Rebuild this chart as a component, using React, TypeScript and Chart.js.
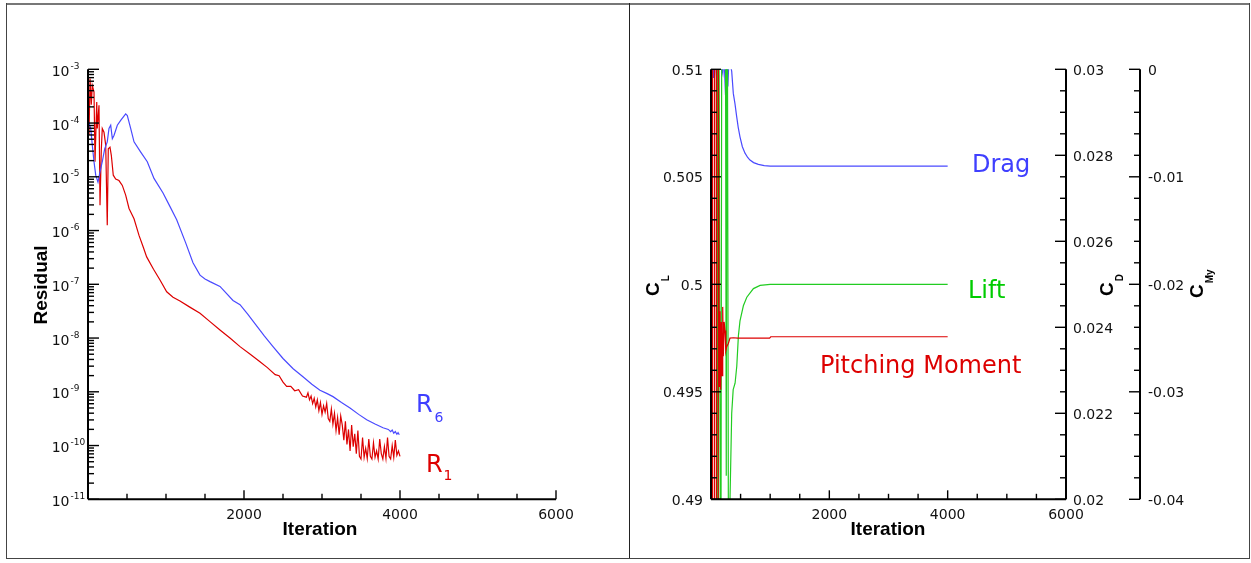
import React, { useEffect, useRef } from "react";
import { Chart, registerables } from "chart.js";
Chart.register(...registerables);

// ---------- Left panel: residual history (values stored as log10 exponents) ----------
const r6Iter = [0, 35, 55, 77, 99, 128, 154, 183, 214, 247, 269, 291, 312, 333, 376, 419, 483, 504, 547, 590, 676, 760, 846, 962, 1050, 1137, 1250, 1346, 1436, 1500, 1564, 1692, 1859, 1949, 2050, 2150, 2260, 2372, 2500, 2630, 2756, 2870, 2974, 3060, 3141, 3250, 3359, 3470, 3573, 3680, 3782, 3850, 3880, 3900, 3920, 3940, 3960, 3975, 3991];
const r6Log10 = [-3.95, -4.10, -4.41, -4.72, -4.97, -5.10, -4.91, -4.72, -4.48, -4.35, -4.10, -4.04, -4.29, -4.23, -4.04, -3.95, -3.83, -3.86, -4.10, -4.35, -4.54, -4.72, -5.03, -5.30, -5.55, -5.80, -6.22, -6.60, -6.83, -6.90, -6.95, -7.04, -7.30, -7.38, -7.56, -7.75, -7.96, -8.16, -8.38, -8.57, -8.72, -8.86, -8.97, -9.03, -9.09, -9.20, -9.30, -9.42, -9.52, -9.60, -9.67, -9.70, -9.74, -9.71, -9.77, -9.74, -9.79, -9.76, -9.80];

const r1Iter = [0, 13, 26, 42, 55, 77, 90, 112, 119, 141, 154, 171, 183, 205, 227, 247, 260, 282, 299, 324, 355, 397, 440, 483, 526, 590, 654, 709, 752, 840, 923, 1009, 1090, 1179, 1300, 1436, 1560, 1692, 1820, 1949, 2080, 2205, 2300, 2400, 2450, 2500, 2547, 2600, 2650, 2700, 2750,
  2800, 2820, 2840, 2860, 2880, 2900, 2920, 2940, 2960, 2980, 3000, 3020, 3040, 3060, 3080, 3100, 3120, 3140, 3160, 3180, 3200, 3220, 3240, 3260, 3280, 3300, 3320, 3340, 3360, 3380, 3400, 3420, 3440, 3460, 3480, 3500, 3520, 3540, 3560, 3580, 3600, 3620, 3640, 3660, 3680, 3700, 3720, 3740, 3760, 3780, 3800, 3820, 3840, 3860, 3880, 3900, 3920, 3940, 3960, 3980, 4000];
const r1Log10 = [-3.24, -4.22, -3.17, -3.66, -3.30, -3.42, -4.72, -3.61, -4.10, -3.67, -5.53, -4.48, -4.10, -4.17, -4.41, -5.90, -4.48, -4.45, -4.60, -4.97, -5.04, -5.07, -5.16, -5.34, -5.59, -5.78, -6.09, -6.31, -6.49, -6.72, -6.92, -7.14, -7.24, -7.31, -7.42, -7.54, -7.69, -7.85, -8.00, -8.16, -8.30, -8.44, -8.55, -8.68, -8.70, -8.82, -8.90, -8.90, -8.98, -8.96, -9.08,
  -9.10, -9.02, -9.15, -9.08, -9.22, -9.12, -9.28, -9.15, -9.35, -9.20, -9.42, -9.26, -9.38, -9.22, -9.50, -9.55, -9.32, -9.60, -9.40, -9.72, -9.48, -9.80, -9.45, -9.62, -9.90, -9.55, -9.98, -9.70, -10.10, -9.62, -10.02, -9.78, -10.15, -9.72, -10.20, -10.25, -9.85, -10.22, -10.05, -10.24, -9.88, -10.20, -10.25, -9.95, -10.22, -10.10, -10.25, -9.88, -10.15, -10.25, -10.02, -10.24, -9.85, -10.20, -10.25, -10.00, -10.22, -9.90, -10.18, -10.10, -10.20];

const residualExponents = [-3, -4, -5, -6, -7, -8, -9, -10, -11];
const iterationTickValues = [2000, 4000, 6000];
const iterationTickLabels = ["2000", "4000", "6000"];

// ---------- Right panel: force coefficients ----------
const dragIter = [0, 20, 40, 60, 100, 130, 170, 200, 220, 245, 265, 285, 305, 330, 350, 377, 405, 434, 460, 490, 530, 575, 620, 659, 720, 800, 900, 1000, 4000];
const dragCD = [0.0320, 0.0310, 0.0298, 0.0305, 0.0297, 0.0304, 0.0301, 0.0299, 0.0303, 0.0294, 0.0302, 0.0296, 0.0303, 0.0301, 0.02995, 0.02944, 0.0292, 0.0289, 0.02865, 0.02843, 0.0282, 0.02805, 0.02795, 0.02789, 0.02783, 0.02779, 0.02776, 0.02775, 0.02775];

const liftIter = [0, 100, 118, 128, 165, 185, 240, 258, 272, 300, 322, 350, 375, 407, 436, 463, 490, 547, 605, 717, 830, 1000, 4000];
const liftCL = [0.52, 0.52, 0.48, 0.52, 0.48, 0.52, 0.52, 0.4911, 0.52, 0.48, 0.4901, 0.4940, 0.4951, 0.4954, 0.4962, 0.4976, 0.4983, 0.4990, 0.4994, 0.4998, 0.49995, 0.5, 0.5];

const momentIter = [0, 22, 25, 55, 58, 88, 91, 120, 123, 140, 152, 164, 175, 186, 198, 208, 222, 237, 250, 265, 293, 321, 377, 450, 990, 1010, 4000];
const momentCMy = [0.005, 0.005, -0.05, -0.05, 0.005, 0.005, -0.05, -0.05, 0.005, -0.0295, -0.0225, -0.0298, -0.0235, -0.0285, -0.0221, -0.0267, -0.0235, -0.0243, -0.0262, -0.0258, -0.0255, -0.0250, -0.02497, -0.0250, -0.0250, -0.02488, -0.02488];

const clTickValues = [0.49, 0.495, 0.5, 0.505, 0.51];
const clTickLabels = ["0.49", "0.495", "0.5", "0.505", "0.51"];
const cdTickValues = [0.02, 0.022, 0.024, 0.026, 0.028, 0.03];
const cdTickLabels = ["0.02", "0.022", "0.024", "0.026", "0.028", "0.03"];
const cmyTickValues = [-0.04, -0.03, -0.02, -0.01, 0];
const cmyTickLabels = ["-0.04", "-0.03", "-0.02", "-0.01", "0"];

const BLUE = "#4a4aff";
const RED = "#dd0000";
const GREEN = "#22cc22";
const TICK_FONT = '14px "DejaVu Sans", sans-serif';
const TITLE_FONT = 'bold 19px "Liberation Sans", Arial, sans-serif';
const ANNO_FONT = '24px "DejaVu Sans", sans-serif';

function seg(ctx: CanvasRenderingContext2D, x1: number, y1: number, x2: number, y2: number) {
  ctx.beginPath();
  ctx.moveTo(x1, y1);
  ctx.lineTo(x2, y2);
  ctx.stroke();
}

function rotTitle(ctx: CanvasRenderingContext2D, bx: number, yb: number, main: string, sub: string) {
  ctx.save();
  ctx.translate(bx, yb);
  ctx.rotate(-Math.PI / 2);
  ctx.fillStyle = "#000";
  ctx.textAlign = "left";
  ctx.textBaseline = "alphabetic";
  ctx.font = TITLE_FONT;
  ctx.fillText(main, 0, 0);
  const w = ctx.measureText(main).width;
  ctx.font = 'bold 10px "Liberation Sans", Arial, sans-serif';
  ctx.fillText(sub, w + 1, 9.5);
  ctx.restore();
}

function xAxisTicks(ctx: CanvasRenderingContext2D, chart: any) {
  const xs = chart.scales.x;
  const { left, right, bottom } = chart.chartArea;
  ctx.lineWidth = 2;
  seg(ctx, left, bottom, right, bottom);
  ctx.lineWidth = 1.4;
  for (let v = 500; v <= 6000; v += 500) {
    const x = xs.getPixelForValue(v);
    const len = v % 2000 === 0 ? 9 : 5.5;
    seg(ctx, x, bottom, x, bottom - len);
  }
  ctx.fillStyle = "#111";
  ctx.font = TICK_FONT;
  ctx.textAlign = "center";
  ctx.textBaseline = "alphabetic";
  iterationTickValues.forEach((v, i) => {
    ctx.fillText(iterationTickLabels[i], xs.getPixelForValue(v), bottom + 19.5);
  });
}

const leftPlugin = {
  id: "leftAxes",
  afterDraw(chart: any) {
    const ctx: CanvasRenderingContext2D = chart.ctx;
    const ys = chart.scales.y;
    const { left, top, bottom } = chart.chartArea;
    ctx.save();
    ctx.strokeStyle = "#000";
    ctx.lineWidth = 2;
    seg(ctx, left, top, left, bottom);
    ctx.lineWidth = 1.4;
    residualExponents.forEach((e) => {
      const base = Math.pow(10, e);
      const y = ys.getPixelForValue(base);
      seg(ctx, left, y, left + 11, y);
      if (e > -11) {
        for (let m = 2; m <= 9; m++) {
          const ym = ys.getPixelForValue(base / 10 * m);
          seg(ctx, left, ym, left + 6, ym);
        }
      }
      ctx.fillStyle = "#111";
      ctx.font = TICK_FONT;
      ctx.textAlign = "right";
      ctx.textBaseline = "alphabetic";
      ctx.fillText("10", left - 18.5, y + 6.5);
      ctx.font = '9px "DejaVu Sans", sans-serif';
      ctx.textAlign = "left";
      ctx.fillText(String(e), left - 17.5, y - 0.5);
    });
    xAxisTicks(ctx, chart);

    ctx.fillStyle = "#000";
    ctx.font = TITLE_FONT;
    ctx.textAlign = "center";
    ctx.textBaseline = "middle";
    ctx.fillText("Iteration", 320, 530);
    ctx.save();
    ctx.translate(42, 285);
    ctx.rotate(-Math.PI / 2);
    ctx.fillText("Residual", 0, 0);
    ctx.restore();

    ctx.textAlign = "left";
    ctx.textBaseline = "alphabetic";
    ctx.fillStyle = "#3f3fff";
    ctx.font = ANNO_FONT;
    ctx.fillText("R", 416, 412);
    ctx.font = '14px "DejaVu Sans", sans-serif';
    ctx.fillText("6", 434.5, 422);
    ctx.fillStyle = RED;
    ctx.font = ANNO_FONT;
    ctx.fillText("R", 426, 472);
    ctx.font = '14px "DejaVu Sans", sans-serif';
    ctx.fillText("1", 443.5, 480);
    ctx.restore();
  },
};

const rightPlugin = {
  id: "rightAxes",
  afterDraw(chart: any) {
    const ctx: CanvasRenderingContext2D = chart.ctx;
    const yL = chart.scales.yL;
    const yD = chart.scales.yD;
    const yM = chart.scales.yM;
    const { left, right, top, bottom } = chart.chartArea;
    const mx = right + 74;
    ctx.save();
    ctx.strokeStyle = "#000";
    ctx.lineWidth = 2;
    seg(ctx, left, top, left, bottom);
    seg(ctx, right, top, right, bottom);
    seg(ctx, mx, top, mx, bottom);
    ctx.lineWidth = 1.4;
    for (let i = 0; i <= 20; i++) {
      const y = yL.getPixelForValue(0.49 + i * 0.001);
      seg(ctx, left, y, left + (i % 5 === 0 ? 10 : 6), y);
      const yd = yD.getPixelForValue(0.02 + i * 0.0005);
      seg(ctx, right - (i % 4 === 0 ? 11 : 6), yd, right, yd);
      const ym = yM.getPixelForValue(-0.04 + i * 0.002);
      seg(ctx, mx - (i % 5 === 0 ? 11 : 6), ym, mx, ym);
    }
    xAxisTicks(ctx, chart);

    ctx.fillStyle = "#111";
    ctx.font = TICK_FONT;
    ctx.textBaseline = "alphabetic";
    ctx.textAlign = "right";
    clTickValues.forEach((v, i) => ctx.fillText(clTickLabels[i], left - 8, yL.getPixelForValue(v) + 5.5));
    ctx.textAlign = "left";
    cdTickValues.forEach((v, i) => ctx.fillText(cdTickLabels[i], right + 7, yD.getPixelForValue(v) + 5.5));
    cmyTickValues.forEach((v, i) => ctx.fillText(cmyTickLabels[i], mx + 8, yM.getPixelForValue(v) + 5.5));

    ctx.fillStyle = "#000";
    ctx.font = TITLE_FONT;
    ctx.textAlign = "center";
    ctx.textBaseline = "middle";
    ctx.fillText("Iteration", 258, 530);
    rotTitle(ctx, 29, 296, "C", "L");
    rotTitle(ctx, 483, 296, "C", "D");
    rotTitle(ctx, 573, 298, "C", "My");

    ctx.textAlign = "left";
    ctx.textBaseline = "alphabetic";
    ctx.font = ANNO_FONT;
    ctx.fillStyle = "#3f3fff";
    ctx.fillText("Drag", 342, 171.5);
    ctx.fillStyle = "#00cc00";
    ctx.fillText("Lift", 338, 298);
    ctx.fillStyle = RED;
    ctx.fillText("Pitching Moment", 190, 373);
    ctx.restore();
  },
};

const line = (label: string, xs: number[], ys: number[], color: string, yAxisID?: string) => ({
  label,
  data: xs.map((x, i) => ({ x, y: ys[i] })),
  borderColor: color,
  backgroundColor: color,
  borderWidth: 1.2,
  pointRadius: 0,
  tension: 0,
  clip: 0,
  ...(yAxisID ? { yAxisID } : {}),
});

export default function App() {
  const leftRef = useRef<HTMLCanvasElement>(null);
  const rightRef = useRef<HTMLCanvasElement>(null);

  useEffect(() => {
    const common = {
      responsive: false,
      animation: false as const,
      devicePixelRatio: 1,
      events: [] as any[],
      plugins: { legend: { display: false }, tooltip: { enabled: false } },
    };
    const c1 = new Chart(leftRef.current!, {
      type: "line",
      data: {
        datasets: [
          line("R6", r6Iter, r6Log10.map((e) => Math.pow(10, e)), BLUE),
          line("R1", r1Iter, r1Log10.map((e) => Math.pow(10, e)), RED),
        ],
      },
      options: {
        ...common,
        layout: { padding: { left: 88, right: 73, top: 69.3, bottom: 63.7 } },
        scales: {
          x: { type: "linear", min: 0, max: 6000, display: false },
          y: { type: "logarithmic", min: 1e-11, max: 1e-3, display: false },
        },
      },
      plugins: [leftPlugin],
    } as any);

    const c2 = new Chart(rightRef.current!, {
      type: "line",
      data: {
        datasets: [
          line("Pitching Moment", momentIter, momentCMy, RED, "yM"),
          line("Lift", liftIter, liftCL, GREEN, "yL"),
          line("Drag", dragIter, dragCD, BLUE, "yD"),
        ],
      },
      options: {
        ...common,
        layout: { padding: { left: 81, right: 185, top: 69.3, bottom: 63.7 } },
        scales: {
          x: { type: "linear", min: 0, max: 6000, display: false },
          yL: { type: "linear", min: 0.49, max: 0.51, display: false },
          yD: { type: "linear", min: 0.02, max: 0.03, display: false },
          yM: { type: "linear", min: -0.04, max: 0, display: false },
        },
      },
      plugins: [rightPlugin],
    } as any);

    return () => {
      c1.destroy();
      c2.destroy();
    };
  }, []);

  const edge = (s: React.CSSProperties) => <div style={{ position: "absolute", pointerEvents: "none", ...s }} />;

  return (
    <div style={{ position: "absolute", left: 0, top: 0, width: 1251, height: 563, background: "#fff", overflow: "hidden" }}>
      <canvas ref={leftRef} width={629} height={563} style={{ position: "absolute", left: 0, top: 0 }} />
      <canvas ref={rightRef} width={621} height={563} style={{ position: "absolute", left: 630, top: 0 }} />
      {edge({ left: 6, top: 3, width: 1244, height: 2, background: "#777" })}
      {edge({ left: 6, top: 3, width: 1, height: 556, background: "#444" })}
      {edge({ left: 629, top: 3, width: 1, height: 556, background: "#222" })}
      {edge({ left: 1249, top: 3, width: 1, height: 556, background: "#444" })}
      {edge({ left: 6, top: 558, width: 1244, height: 1, background: "#444" })}
    </div>
  );
}
